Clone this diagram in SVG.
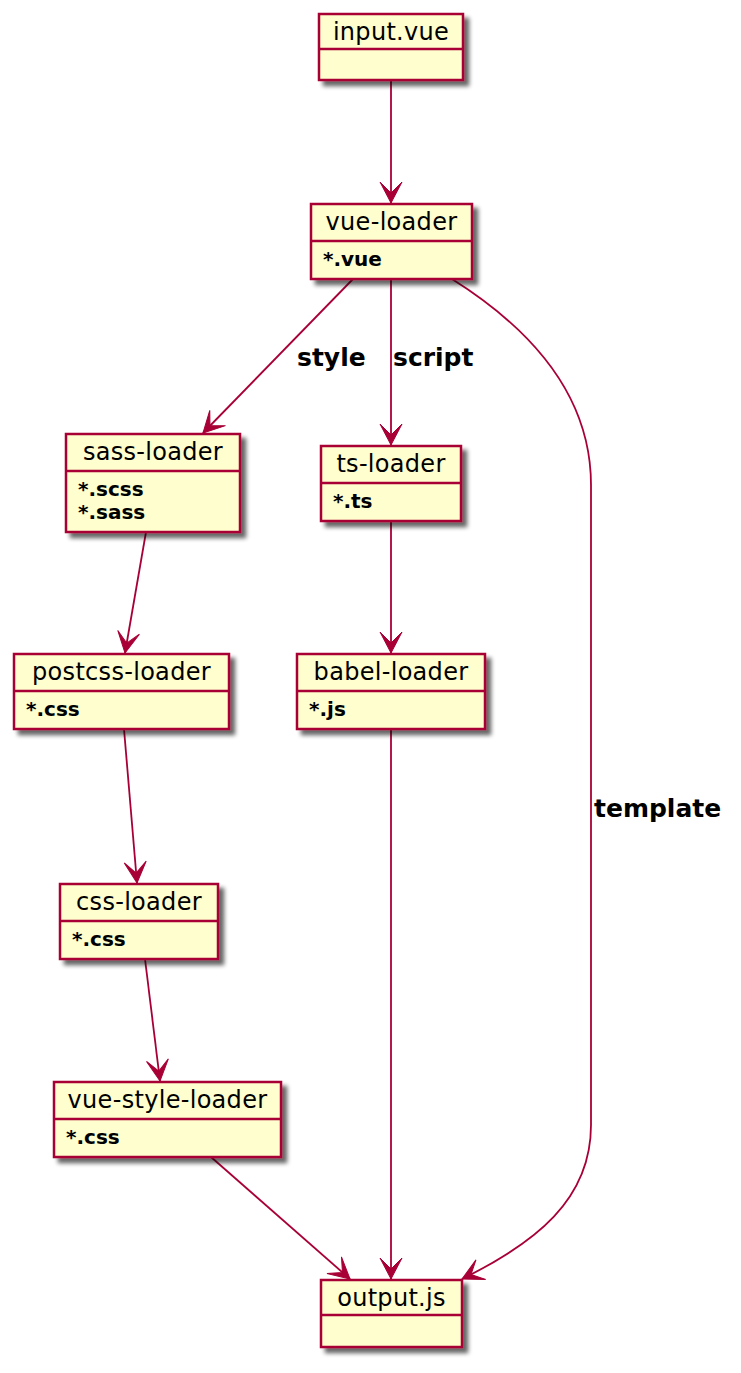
<svg xmlns="http://www.w3.org/2000/svg" width="741" height="1373" viewBox="0 0 741 1373">
<style>
.box{fill:#FEFECE;stroke:#A80036;stroke-width:2.5}
.sep{stroke:#A80036;stroke-width:2.5}
.name{font-family:"DejaVu Sans",Verdana,sans-serif;font-size:24px;fill:#000;text-anchor:middle;letter-spacing:0.3px}
.attr{font-family:"DejaVu Sans",Verdana,sans-serif;font-size:20px;font-weight:bold;fill:#000}
.lbl{font-family:"DejaVu Sans",Verdana,sans-serif;font-size:25px;font-weight:bold;fill:#000}
.edge{fill:none;stroke:#A80036;stroke-width:1.8;marker-end:url(#arr)}
</style>
<defs>
<filter id="sh" x="-20%" y="-20%" width="150%" height="150%">
<feGaussianBlur in="SourceAlpha" stdDeviation="2"/>
<feOffset dx="5" dy="5" result="b"/>
<feComponentTransfer><feFuncA type="linear" slope="0.6"/></feComponentTransfer>
<feMerge><feMergeNode/><feMergeNode in="SourceGraphic"/></feMerge>
</filter>
<marker id="arr" markerUnits="userSpaceOnUse" markerWidth="30" markerHeight="30" refX="0" refY="0" orient="auto" overflow="visible">
<path d="M0,0 L-21,-11 L-10,0 L-21,11 Z" fill="#A80036" stroke="#A80036" stroke-width="1"/>
</marker>
</defs>

<g id="connectors">
<path class="edge" d="M391,80 L391,203"/>
<path class="edge" d="M353,279 L203,433"/>
<path class="edge" d="M391,279 L391,445"/>
<path class="edge" d="M452,279 C525,325 591,390 591,485 L591,1125 C591,1200 535,1243 462,1279"/>
<path class="edge" d="M146,532 L125,653"/>
<path class="edge" d="M391,521 L391,653"/>
<path class="edge" d="M124,729 L137,883"/>
<path class="edge" d="M391,729 L391,1279"/>
<path class="edge" d="M145,959 L160,1081"/>
<path class="edge" d="M211,1157 L350,1279"/>
<text class="lbl" x="297" y="366">style</text>
<text class="lbl" x="393" y="366">script</text>
<text class="lbl" x="594" y="817">template</text>
</g>

<g id="input_vue">
<rect class="box" x="319" y="14" width="144" height="66" filter="url(#sh)"/>
<line class="sep" x1="319" y1="49" x2="463" y2="49"/>
<text class="name" x="391" y="40">input.vue</text>
</g>

<g id="vue_loader">
<rect class="box" x="311" y="204" width="161" height="75" filter="url(#sh)"/>
<line class="sep" x1="311" y1="241" x2="472" y2="241"/>
<text class="name" x="391.5" y="230">vue-loader</text>
<text class="attr" x="323" y="266">*.vue</text>
</g>

<g id="sass_loader">
<rect class="box" x="66" y="434" width="174" height="98" filter="url(#sh)"/>
<line class="sep" x1="66" y1="471" x2="240" y2="471"/>
<text class="name" x="153" y="460">sass-loader</text>
<text class="attr" x="78" y="496">*.scss</text>
<text class="attr" x="78" y="519">*.sass</text>
</g>

<g id="ts_loader">
<rect class="box" x="321" y="446" width="140" height="75" filter="url(#sh)"/>
<line class="sep" x1="321" y1="483" x2="461" y2="483"/>
<text class="name" x="391" y="472">ts-loader</text>
<text class="attr" x="333" y="508">*.ts</text>
</g>

<g id="postcss_loader">
<rect class="box" x="14" y="654" width="215" height="75" filter="url(#sh)"/>
<line class="sep" x1="14" y1="691" x2="229" y2="691"/>
<text class="name" x="121.5" y="680">postcss-loader</text>
<text class="attr" x="26" y="716">*.css</text>
</g>

<g id="babel_loader">
<rect class="box" x="297" y="654" width="188" height="75" filter="url(#sh)"/>
<line class="sep" x1="297" y1="691" x2="485" y2="691"/>
<text class="name" x="391" y="680">babel-loader</text>
<text class="attr" x="309" y="716">*.js</text>
</g>

<g id="css_loader">
<rect class="box" x="60" y="884" width="158" height="75" filter="url(#sh)"/>
<line class="sep" x1="60" y1="921" x2="218" y2="921"/>
<text class="name" x="139" y="910">css-loader</text>
<text class="attr" x="72" y="946">*.css</text>
</g>

<g id="vue_style_loader">
<rect class="box" x="54" y="1082" width="227" height="75" filter="url(#sh)"/>
<line class="sep" x1="54" y1="1119" x2="281" y2="1119"/>
<text class="name" x="167.5" y="1108">vue-style-loader</text>
<text class="attr" x="66" y="1144">*.css</text>
</g>

<g id="output_js">
<rect class="box" x="321" y="1280" width="141" height="67" filter="url(#sh)"/>
<line class="sep" x1="321" y1="1315" x2="462" y2="1315"/>
<text class="name" x="391.5" y="1306">output.js</text>
</g>
</svg>
